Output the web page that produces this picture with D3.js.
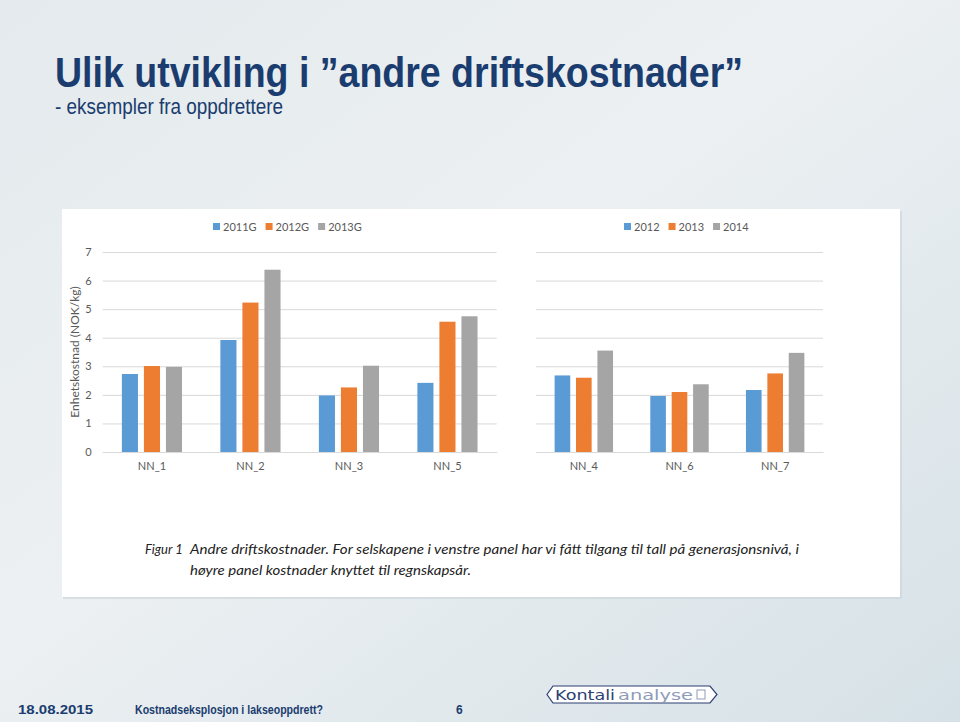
<!DOCTYPE html>
<html>
<head>
<meta charset="utf-8">
<script src="https://cdn.jsdelivr.net/npm/d3@7"></script>
<style>
  html, body { margin: 0; padding: 0; background: #e6ebee; }
  svg { display: block; }
</style>
</head>
<body>
<svg id="chart" width="960" height="722"></svg>
<script>
// ---- Data ----
const leftCategories = ["NN_1", "NN_2", "NN_3", "NN_5"];
const leftSeries = ["2011G", "2012G", "2013G"];
const left2011G = [2.73, 3.92, 1.98, 2.42];
const left2012G = [3.01, 5.23, 2.26, 4.56];
const left2013G = [2.98, 6.38, 3.02, 4.75];

const rightCategories = ["NN_4", "NN_6", "NN_7"];
const rightSeries = ["2012", "2013", "2014"];
const right2012 = [2.68, 1.96, 2.17];
const right2013 = [2.60, 2.10, 2.75];
const right2014 = [3.55, 2.37, 3.47];

const yTicks = [0, 1, 2, 3, 4, 5, 6, 7];
const seriesColors = ["#5b9bd5", "#ed7d31", "#a5a5a5"];

const titleText = "Ulik utvikling i \u201dandre driftskostnader\u201d";
const subtitleText = "- eksempler fra oppdrettere";
const yLabel = "Enhetskostnad (NOK/kg)";
const captionLabel = "Figur 1";
const captionLine1 = "Andre driftskostnader. For selskapene i venstre panel har vi fått tilgang til tall på generasjonsnivå, i";
const captionLine2 = "høyre panel kostnader knyttet til regnskapsår.";
const footerDate = "18.08.2015";
const footerTitle = "Kostnadseksplosjon i lakseoppdrett?";
const footerPage = "6";

// ---- Drawing ----
const svg = d3.select("#chart");
const defs = svg.append("defs");
const bg = defs.append("linearGradient").attr("id", "bg")
  .attr("x1", "0").attr("y1", "0").attr("x2", "1").attr("y2", "1");
bg.append("stop").attr("offset", "0").attr("stop-color", "#e4eaed");
bg.append("stop").attr("offset", "0.45").attr("stop-color", "#ecf0f2");
bg.append("stop").attr("offset", "1").attr("stop-color", "#d6e1e7");
svg.append("rect").attr("width", 960).attr("height", 722).attr("fill", "url(#bg)");

const navy = "#1a3c6e";
// Title
svg.append("text").attr("x", 55).attr("y", 87)
  .attr("font-family", "'Liberation Sans Narrow', 'Liberation Sans', Arial, sans-serif")
  .attr("font-weight", "bold").attr("font-size", 42).attr("fill", navy)
  .attr("textLength", 688).attr("lengthAdjust", "spacingAndGlyphs")
  .text(titleText);
svg.append("text").attr("x", 55).attr("y", 114)
  .attr("font-family", "'Liberation Sans Narrow', 'Liberation Sans', Arial, sans-serif")
  .attr("font-size", 22).attr("fill", navy)
  .attr("textLength", 228).attr("lengthAdjust", "spacingAndGlyphs")
  .text(subtitleText);

// White panel
svg.append("rect").attr("x", 63).attr("y", 211).attr("width", 839).attr("height", 388)
  .attr("fill", "#c9d3d9").attr("opacity", 0.6);
svg.append("rect").attr("x", 62).attr("y", 209).attr("width", 838).attr("height", 388)
  .attr("fill", "#ffffff");

const chartFont = "Lato, 'Open Sans', sans-serif";
const y = d3.scaleLinear().domain([0, 7]).range([452, 252]);

function drawPanel(opts) {
  const g = svg.append("g");
  const x0 = d3.scaleBand().domain(opts.categories).range(opts.range).paddingInner(0).paddingOuter(0);
  const x1 = d3.scaleBand().domain(opts.series).range([0, x0.bandwidth()])
    .paddingInner(0.27).paddingOuter(0.87);

  // gridlines
  const yAxis = d3.axisLeft(y).tickValues(yTicks)
    .tickSize(-(opts.range[1] - opts.range[0])).tickFormat(opts.showLabels ? d3.format("d") : () => "")
    .tickPadding(11);
  const ga = g.append("g").attr("transform", `translate(${opts.range[0]},0)`).call(yAxis);
  ga.select(".domain").remove();
  ga.selectAll(".tick line").attr("stroke", "#d9d9d9").attr("stroke-width", 1);
  ga.selectAll(".tick text").attr("font-family", chartFont).attr("font-size", 11).attr("fill", "#595959");

  // bars
  opts.series.forEach((s, si) => {
    g.append("g").selectAll("rect").data(opts.values[si]).join("rect")
      .attr("x", (d, i) => x0(opts.categories[i]) + x1(s))
      .attr("y", d => y(d))
      .attr("width", x1.bandwidth())
      .attr("height", d => y(0) - y(d))
      .attr("fill", seriesColors[si]);
  });

  // x axis
  const xAxis = d3.axisBottom(x0).tickSize(0).tickPadding(10);
  const gx = g.append("g").attr("transform", `translate(0,${y(0)})`).call(xAxis);
  gx.select(".domain").attr("stroke", "#d9d9d9");
  gx.selectAll(".tick text").attr("font-family", chartFont).attr("font-size", 11).attr("fill", "#595959");

  // legend
  const lg = g.append("g");
  let lx = opts.legendX;
  opts.series.forEach((s, si) => {
    lg.append("rect").attr("x", lx).attr("y", 223).attr("width", 7).attr("height", 7).attr("fill", seriesColors[si]);
    const t = lg.append("text").attr("x", lx + 10).attr("y", 231)
      .attr("font-family", chartFont).attr("font-size", 11).attr("fill", "#595959").text(s);
    lx += 10 + t.node().getComputedTextLength() + 9;
  });
}

drawPanel({
  categories: leftCategories, series: leftSeries,
  values: [left2011G, left2012G, left2013G],
  range: [102.7, 496.7], showLabels: true, legendX: 213
});
drawPanel({
  categories: rightCategories, series: rightSeries,
  values: [right2012, right2013, right2014],
  range: [536, 823], showLabels: false, legendX: 624
});

// y label
svg.append("text")
  .attr("transform", `translate(79,${(y(0) + y(7)) / 2}) rotate(-90)`)
  .attr("text-anchor", "middle")
  .attr("font-family", chartFont).attr("font-size", 12).attr("fill", "#595959")
  .text(yLabel);

// caption
svg.append("text").attr("x", 145).attr("y", 554)
  .attr("font-family", chartFont).attr("font-style", "italic").attr("font-size", 13).attr("fill", "#222")
  .text(captionLabel);
svg.append("text").attr("x", 190).attr("y", 554)
  .attr("font-family", chartFont).attr("font-style", "italic").attr("font-size", 13).attr("fill", "#222")
  .attr("textLength", 609).attr("lengthAdjust", "spacingAndGlyphs")
  .text(captionLine1);
svg.append("text").attr("x", 190).attr("y", 575)
  .attr("font-family", chartFont).attr("font-style", "italic").attr("font-size", 13).attr("fill", "#222")
  .attr("textLength", 281).attr("lengthAdjust", "spacingAndGlyphs")
  .text(captionLine2);

// footer
const footFont = "'Liberation Sans Narrow', 'Liberation Sans', Arial, sans-serif";
svg.append("text").attr("x", 18).attr("y", 714)
  .attr("font-family", footFont).attr("font-weight", "bold").attr("font-size", 12).attr("fill", navy)
  .attr("textLength", 75).attr("lengthAdjust", "spacingAndGlyphs").text(footerDate);
svg.append("text").attr("x", 135).attr("y", 714)
  .attr("font-family", footFont).attr("font-weight", "bold").attr("font-size", 12).attr("fill", navy)
  .attr("textLength", 188).attr("lengthAdjust", "spacingAndGlyphs").text(footerTitle);
svg.append("text").attr("x", 456).attr("y", 714)
  .attr("font-family", footFont).attr("font-weight", "bold").attr("font-size", 12).attr("fill", navy)
  .text(footerPage);

// logo
const logo = svg.append("g");
logo.append("path")
  .attr("d", "M553,686 L710,686 L717,694.5 L710,703 L553,703 L547,694.5 Z")
  .attr("fill", "#ffffff").attr("stroke", "#2d3f73").attr("stroke-width", 1.2);
logo.append("text").attr("x", 555).attr("y", 700)
  .attr("font-family", "'DejaVu Sans', sans-serif").attr("font-size", 14).attr("fill", "#2d3f73")
  .attr("textLength", 60).attr("lengthAdjust", "spacingAndGlyphs").text("Kontali");
logo.append("text").attr("x", 618).attr("y", 700)
  .attr("font-family", "'DejaVu Sans', sans-serif").attr("font-size", 14).attr("fill", "#8f9bb8")
  .attr("textLength", 75).attr("lengthAdjust", "spacingAndGlyphs").text("analyse");
logo.append("rect").attr("x", 697).attr("y", 690).attr("width", 8).attr("height", 9)
  .attr("fill", "none").attr("stroke", "#8f9bb8").attr("stroke-width", 1);
</script>
</body>
</html>
